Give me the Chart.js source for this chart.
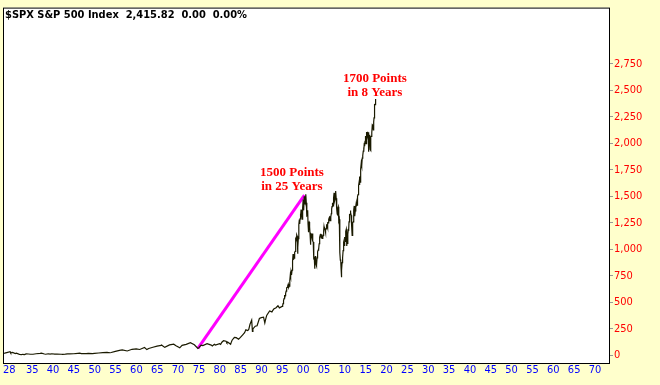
<!DOCTYPE html>
<html>
<head>
<meta charset="utf-8">
<script src="https://cdn.jsdelivr.net/npm/chart.js@4.4.1/dist/chart.umd.min.js"></script>
<style>
  html, body { margin: 0; padding: 0; background: #ffffcc; }
  canvas { display: block; }
</style>
</head>
<body>
<canvas id="spxChart" width="660" height="385"></canvas>
<script>
// Early history, irregular points (decimal year, index level)
const earlyDates = [
  1928.0, 1928.4, 1928.9, 1929.7, 1929.85, 1930.3, 1930.95, 1931.2, 1931.95, 1932.45,
  1932.7, 1933.15, 1933.55, 1934.1, 1934.6, 1935.2, 1935.95, 1936.9, 1937.2, 1937.95,
  1938.25, 1938.85, 1939.3, 1939.7, 1940.4, 1940.95, 1941.95, 1942.3, 1942.95, 1943.5,
  1943.95, 1944.95, 1945.95, 1946.4, 1946.8, 1947.95, 1948.45, 1949.45, 1949.95, 1950.95,
  1951.95, 1952.95, 1953.7, 1953.95, 1954.95, 1955.95, 1956.6, 1957.8, 1958.95, 1959.95,
  1960.8, 1961.95, 1962.5, 1962.95, 1963.95, 1964.95, 1965.95, 1966.1, 1966.8, 1967.95,
  1968.95, 1969.5, 1970.4, 1970.95, 1971.95, 1972.95, 1973.9, 1974.75, 1974.95, 1975.5,
  1975.95, 1976.95, 1977.95, 1978.2, 1978.7, 1978.95, 1979.95, 1980.2, 1980.5, 1980.9,
  1981.5, 1981.7, 1981.95, 1982.6, 1982.75, 1982.95, 1983.5, 1983.95, 1984.5, 1984.95,
  1985.5, 1985.95, 1986.25, 1986.7, 1986.95, 1987.25, 1987.65, 1987.83, 1987.95, 1988.5,
  1988.95, 1989.5, 1989.95, 1990.5, 1990.8, 1990.95, 1991.25, 1991.95, 1992.5, 1992.95,
  1993.5, 1993.95, 1994.3, 1994.95
];
const earlyCloses = [
  17.6, 19.8, 24.4, 31.9, 20.4, 25.5, 15.3, 18.2, 8.1, 4.4,
  8.1, 5.7, 12.2, 11.0, 8.4, 8.4, 13.4, 17.2, 18.7, 10.6,
  8.5, 13.2, 10.2, 13.0, 9.2, 10.6, 8.7, 7.5, 9.7, 12.3,
  11.7, 13.3, 17.4, 19.3, 14.7, 15.3, 17.1, 13.6, 16.8, 20.4,
  23.8, 26.6, 22.7, 24.8, 35.9, 45.5, 49.4, 39.4, 55.2, 59.9,
  53.4, 71.6, 52.3, 63.1, 75.0, 84.8, 92.4, 94.1, 73.2, 96.5,
  103.9, 89.5, 69.3, 92.2, 102.1, 118.1, 97.6, 63.5, 68.6, 95.2,
  90.2, 107.5, 95.1, 87.0, 103.0, 96.1, 107.9, 102.1, 121.7, 135.8,
  131.2, 116.2, 122.6, 102.4, 120.4, 140.6, 168.1, 164.9, 150.7, 167.2,
  191.9, 211.3, 238.9, 231.3, 242.2, 291.7, 329.8, 224.8, 247.1, 273.5,
  277.7, 346.1, 353.4, 358.0, 304.0, 330.2, 375.2, 417.1, 408.1, 435.7,
  448.1, 466.5, 445.8, 459.3
];

// Month-end closes, Jan 1995 .. May 2017
const monthlyStartYear = 1995;
const monthlyCloses = [
  470, 487, 500, 515, 533, 545, 562, 562, 584, 582, 605, 616,
  636, 640, 646, 654, 669, 671, 640, 652, 687, 705, 757, 741,
  786, 791, 757, 801, 848, 885, 954, 899, 947, 915, 955, 970,
  980, 1049, 1102, 1112, 1091, 1134, 1121, 957, 1017, 1099, 1164, 1229,
  1280, 1238, 1286, 1335, 1302, 1373, 1329, 1320, 1283, 1362, 1389, 1469,
  1394, 1366, 1499, 1452, 1421, 1455, 1431, 1518, 1437, 1429, 1315, 1320,
  1366, 1240, 1160, 1249, 1256, 1224, 1211, 1134, 1041, 1060, 1139, 1148,
  1130, 1107, 1147, 1076, 1067, 990, 912, 916, 815, 886, 936, 880,
  856, 841, 848, 917, 964, 975, 990, 1008, 996, 1051, 1058, 1112,
  1131, 1145, 1126, 1107, 1121, 1141, 1102, 1104, 1115, 1130, 1174, 1212,
  1181, 1204, 1181, 1157, 1192, 1191, 1234, 1220, 1229, 1207, 1249, 1248,
  1280, 1281, 1295, 1311, 1270, 1270, 1277, 1304, 1336, 1378, 1401, 1418,
  1438, 1407, 1421, 1482, 1531, 1503, 1455, 1474, 1527, 1549, 1481, 1468,
  1379, 1331, 1323, 1386, 1400, 1280, 1267, 1283, 1166, 969, 896, 903,
  826, 735, 798, 873, 919, 919, 987, 1021, 1057, 1036, 1096, 1115,
  1074, 1104, 1169, 1187, 1089, 1031, 1102, 1049, 1141, 1183, 1181, 1258,
  1286, 1327, 1326, 1364, 1345, 1321, 1292, 1219, 1131, 1253, 1247, 1258,
  1312, 1366, 1408, 1398, 1310, 1362, 1379, 1407, 1441, 1412, 1416, 1426,
  1498, 1515, 1569, 1598, 1631, 1606, 1686, 1633, 1682, 1757, 1806, 1848,
  1783, 1859, 1872, 1884, 1924, 1960, 1931, 2003, 1972, 2018, 2068, 2059,
  1995, 2105, 2068, 2086, 2107, 2063, 2104, 1972, 1920, 2079, 2080, 2044,
  1940, 1932, 2060, 2065, 2097, 2099, 2174, 2171, 2168, 2126, 2199, 2239,
  2279, 2364, 2363, 2384, 2415.82
];

// Magenta trend line
const trendDates = [1974.75, 2000.3];
const trendValues = [63.5, 1510];

// Axis ticks
const xTickYears = [1928, 1935, 1940, 1945, 1950, 1955, 1960, 1965, 1970, 1975, 1980, 1985,
  1990, 1995, 2000, 2005, 2010, 2015, 2020, 2025, 2030, 2035, 2040, 2045, 2050, 2055,
  2060, 2065, 2070];
const yTickValues = [0, 250, 500, 750, 1000, 1250, 1500, 1750, 2000, 2250, 2500, 2750];

// Annotations
const noteLines = [['1500 Points', 'in 25 Years'], ['1700 Points', 'in 8 Years']];
const noteYears = [1997.3, 2017.2];
const noteValues = [1722, 2611];

const titleText = '$SPX S&P 500 Index  2,415.82  0.00  0.00%';

const pricePoints = earlyDates.map((d, i) => ({ x: d, y: earlyCloses[i] }))
  .concat(monthlyCloses.map((v, i) => ({ x: monthlyStartYear + (i + 1) / 12, y: v })));
const trendPoints = trendDates.map((d, i) => ({ x: d, y: trendValues[i] }));

const framePlugin = {
  id: 'frame',
  beforeDraw(chart) {
    const { ctx, chartArea: a } = chart;
    ctx.save();
    ctx.fillStyle = '#ffffcc';
    ctx.fillRect(0, 0, chart.width, chart.height);
    ctx.fillStyle = '#ffffff';
    ctx.fillRect(a.left, a.top, a.right - a.left, a.bottom - a.top);
    ctx.restore();
  },
  afterDatasetsDraw(chart) {
    const { ctx, chartArea: a, scales } = chart;
    ctx.save();
    // annotations
    ctx.fillStyle = '#ff0000';
    ctx.font = 'bold 13px "Liberation Serif", "Times New Roman", serif';
    ctx.textAlign = 'center';
    ctx.textBaseline = 'middle';
    noteLines.forEach((lines, i) => {
      const px = scales.x.getPixelForValue(noteYears[i]);
      const py = scales.y.getPixelForValue(noteValues[i]);
      lines.forEach((t, j) => ctx.fillText(t, px, py + j * 14));
    });
    // title
    ctx.fillStyle = '#000000';
    ctx.font = 'bold 11px "DejaVu Sans Condensed", "DejaVu Sans", sans-serif';
    ctx.textAlign = 'left';
    ctx.textBaseline = 'alphabetic';
    ctx.fillText(titleText, a.left + 2, a.top + 10);
    // frame
    ctx.strokeStyle = '#000000';
    ctx.lineWidth = 1;
    ctx.strokeRect(a.left + 0.5, a.top + 0.5, a.right - a.left - 1, a.bottom - a.top);
    ctx.restore();
  }
};

const ctx = document.getElementById('spxChart').getContext('2d');
new Chart(ctx, {
  type: 'line',
  data: {
    datasets: [
      {
        label: 'SPX',
        data: pricePoints,
        borderColor: '#1a1a00',
        borderWidth: 1.2,
        pointRadius: 0,
        tension: 0,
        fill: false
      },
      {
        label: 'Trend',
        data: trendPoints,
        borderColor: '#ff00ff',
        borderWidth: 3,
        pointRadius: 0,
        fill: false
      }
    ]
  },
  options: {
    responsive: false,
    devicePixelRatio: 1,
    animation: false,
    layout: { padding: { left: 3, top: 2, right: 0, bottom: 0 } },
    plugins: {
      legend: { display: false },
      tooltip: { enabled: false }
    },
    scales: {
      x: {
        type: 'linear',
        position: 'bottom',
        min: 1928,
        max: 2073.6,
        afterBuildTicks: (scale) => {
          scale.ticks = xTickYears.map(v => ({ value: v })).concat([{ value: 2073.6 }]);
        },
        afterFit: (scale) => { scale.height = 22; },
        grid: { display: false, drawTicks: false },
        border: { display: false },
        ticks: {
          autoSkip: false,
          maxRotation: 0,
          align: 'inner',
          padding: 1,
          color: '#0000ff',
          font: { family: '"DejaVu Sans Condensed", "DejaVu Sans", sans-serif', size: 11 },
          callback: (v) => xTickYears.includes(v) ? String(v % 100).padStart(2, '0') : ''
        }
      },
      y: {
        type: 'linear',
        position: 'right',
        min: -74,
        max: 3279,
        afterBuildTicks: (scale) => {
          scale.ticks = yTickValues.map(v => ({ value: v }));
        },
        afterFit: (scale) => { scale.width = 50; },
        grid: { display: true, drawOnChartArea: false, drawTicks: true, tickLength: 3, color: '#999999' },
        border: { display: false },
        ticks: {
          padding: 1,
          color: '#ff0000',
          font: { family: '"DejaVu Sans Condensed", "DejaVu Sans", sans-serif', size: 11 },
          callback: (v) => v.toLocaleString('en-US')
        }
      }
    }
  },
  plugins: [framePlugin]
});
</script>
</body>
</html>
